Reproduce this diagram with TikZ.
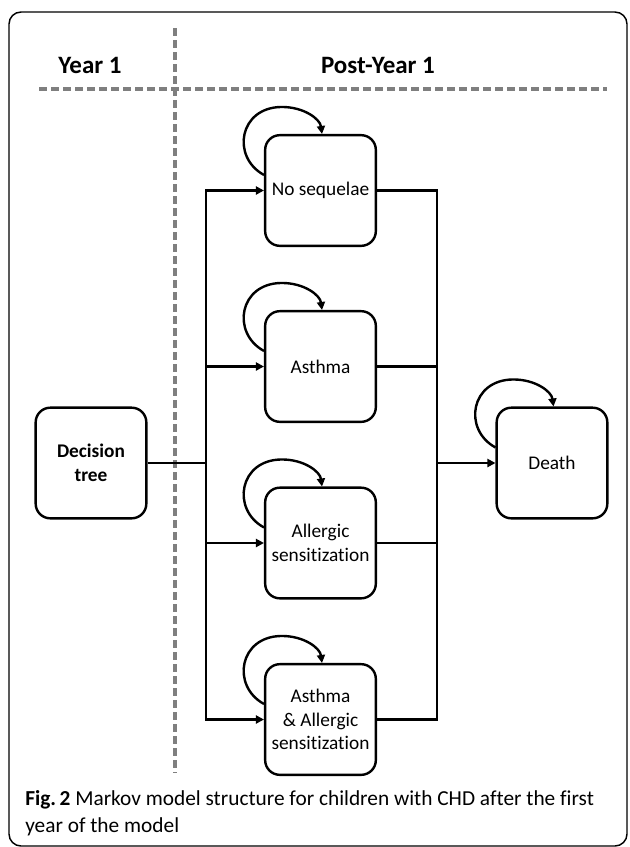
\documentclass[tikz,border=0pt]{standalone}
\usepackage{fontspec}
\setmainfont[Ligatures=NoCommon]{Carlito}
\usetikzlibrary{arrows.meta,calc}
\definecolor{guidegray}{HTML}{7F7F7F}
\newcommand\selfloop[1]{%
  \draw[selfarr] ($(#1.north west)+(0,41)$)
    .. controls +(-33,-18) and +(-43,0) .. ($(#1.north west)+(18,-27)$)
    .. controls +(22,0) and +(-2,-15) .. ($(#1.north)+(1.5,0)$);}
\begin{document}
\begin{tikzpicture}[x=0.75pt,y=-0.75pt,
  state/.style={draw, line width=1.8pt, rounded corners=11pt,
    minimum width=83pt, minimum height=83pt, align=center, inner sep=0pt,
    font=\fontsize{14.5pt}{17.6pt}\selectfont},
  conn/.style={line width=2.2pt},
  arr/.style={conn, -{Triangle[length=6pt,width=6pt]}},
  selfarr/.style={line width=1.8pt, -{Triangle[length=6pt,width=6pt]}},
  guide/.style={draw=guidegray, line width=2.3pt, dash pattern=on 6pt off 3pt},
  head/.style={font=\bfseries\fontsize{18.75pt}{22pt}\selectfont, inner sep=0pt},
  captext/.style={anchor=base west, inner sep=0pt, font=\fontsize{16pt}{19pt}\selectfont}]
\useasboundingbox (0,0) rectangle (629,847);
\draw[line width=1.1pt, rounded corners=9pt] (9,12) rectangle (627,846);

% guides
\draw[guide] (175,28) -- (175,773);
\draw[guide] (39,89) -- (607,89);

% headers
\node[head] (y1) at (90,65) {Year 1};
\node[head] (py1) at (378,65) {Post-Year 1};

% states
\node[state, font=\bfseries\fontsize{14.5pt}{17.6pt}\selectfont] (dt) at (91,463) {Decision\\tree};
\node[state] (ns) at (320.5,190.5) {No sequelae};
\node[state] (as) at (320.5,366.5) {Asthma};
\node[state] (al) at (320.5,543) {Allergic\\sensitization};
\node[state] (ab) at (320.5,719.5) {Asthma\\\& Allergic\\sensitization};
\node[state] (de) at (552,463) {Death};

% buses
\coordinate (busL) at (206,463);
\coordinate (busR) at (437,463);

\draw[conn] (dt.east) -- (busL);
\draw[arr] (busL) |- (ns.west);
\draw[arr] (busL) |- (ab.west);
\draw[arr] (busL |- as.west) -- (as.west);
\draw[arr] (busL |- al.west) -- (al.west);

\draw[conn] (ns.east) -| (busR);
\draw[conn] (ab.east) -| (busR);
\draw[conn] (as.east) -- (busR |- as.east);
\draw[conn] (al.east) -- (busR |- al.east);
\draw[arr] (busR) -- (de.west);

% self loops
\selfloop{ns}
\selfloop{as}
\selfloop{al}
\selfloop{ab}
\selfloop{de}

% caption
\node[captext] (cap1) at (25,805) {\textbf{Fig.\,2} Markov model structure for children with CHD after the first};
\node[captext] (cap2) at (25,832) {year of the model};
\end{tikzpicture}
\end{document}
